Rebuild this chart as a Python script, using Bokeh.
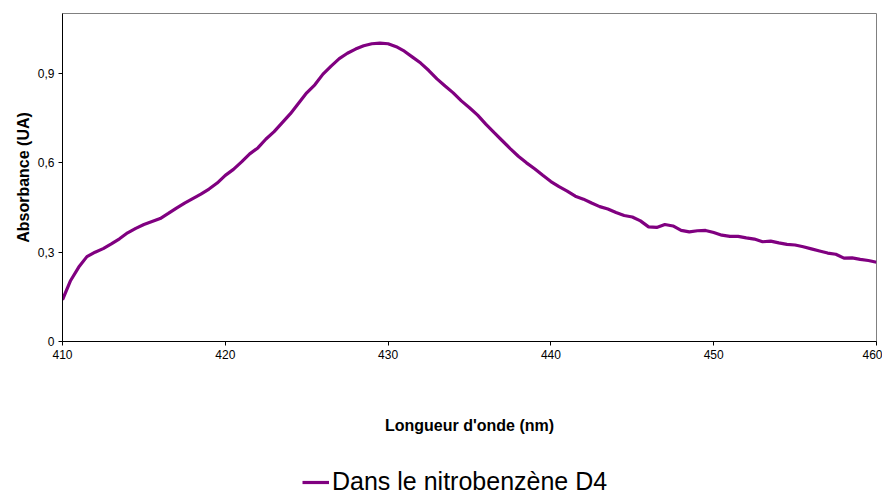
from bokeh.plotting import figure
from bokeh.layouts import column
from bokeh.models import Range1d, FixedTicker, Legend, LegendItem
from bokeh.embed import file_html
from bokeh.resources import INLINE

wavelength = [410.0 + 0.5 * i for i in range(101)]
absorbance = [
    0.140, 0.205, 0.250, 0.285, 0.300, 0.312, 0.328, 0.345, 0.365, 0.380,
    0.393, 0.403, 0.413, 0.430, 0.448, 0.465, 0.480, 0.495, 0.512, 0.532,
    0.558, 0.578, 0.603, 0.630, 0.650, 0.680, 0.705, 0.735, 0.765, 0.800,
    0.835, 0.862, 0.898, 0.925, 0.950, 0.968, 0.982, 0.993, 1.000, 1.002,
    1.000, 0.990, 0.975, 0.955, 0.935, 0.910, 0.882, 0.858, 0.835, 0.808,
    0.785, 0.760, 0.730, 0.702, 0.675, 0.648, 0.622, 0.600, 0.580, 0.558,
    0.537, 0.520, 0.505, 0.488, 0.478, 0.465, 0.453, 0.445, 0.433, 0.423,
    0.418, 0.405, 0.385, 0.383, 0.393, 0.388, 0.373, 0.368, 0.372, 0.373,
    0.366, 0.357, 0.353, 0.353, 0.348, 0.344, 0.335, 0.337, 0.331, 0.326,
    0.324, 0.318, 0.311, 0.304, 0.297, 0.293, 0.280, 0.281, 0.276, 0.272,
    0.266,
]
x_ticks = [410, 420, 430, 440, 450, 460]
y_ticks = [0, 0.3, 0.6, 0.9]
y_tick_labels = {0: "0", 0.3: "0,3", 0.6: "0,6", 0.9: "0,9"}
series_name = "Dans le nitrobenzène D4"
x_title = "Longueur d'onde (nm)"
y_title = "Absorbance (UA)"

FONT = "Liberation Sans"
LINE_COLOR = "#800080"

p = figure(width=882, height=445, output_backend="svg", toolbar_location=None,
           x_range=Range1d(410, 460), y_range=Range1d(0, 1.1015),
           min_border_left=62, min_border_right=6, min_border_top=13, min_border_bottom=104)

r = p.line(wavelength, absorbance, line_color=LINE_COLOR, line_width=3.2)

p.xgrid.visible = False
p.ygrid.visible = False
p.outline_line_color = "#808080"
p.outline_line_width = 1
p.background_fill_color = "white"
p.border_fill_color = "white"

xa = p.xaxis[0]
xa.ticker = FixedTicker(ticks=x_ticks)
xa.axis_label = x_title
xa.axis_label_text_font = FONT
xa.axis_label_text_font_size = "16px"
xa.axis_label_text_font_style = "bold"
xa.axis_label_text_color = "black"
xa.axis_label_standoff = 55
xa.major_label_text_font = FONT
xa.major_label_text_font_size = "12px"
xa.major_label_text_color = "black"
xa.major_label_standoff = 4
xa.major_tick_in = 0
xa.major_tick_out = 4
xa.minor_tick_in = 0
xa.minor_tick_out = 0
xa.axis_line_color = "black"
xa.major_tick_line_color = "black"

ya = p.yaxis[0]
ya.ticker = FixedTicker(ticks=y_ticks)
ya.major_label_overrides = y_tick_labels
ya.axis_label = y_title
ya.axis_label_text_font = FONT
ya.axis_label_text_font_size = "16px"
ya.axis_label_text_font_style = "bold"
ya.axis_label_text_color = "black"
ya.axis_label_standoff = 3
ya.major_label_text_font = FONT
ya.major_label_text_font_size = "12px"
ya.major_label_text_color = "black"
ya.major_label_standoff = 4
ya.major_tick_in = 0
ya.major_tick_out = 4
ya.minor_tick_in = 0
ya.minor_tick_out = 0
ya.axis_line_color = "black"
ya.major_tick_line_color = "black"

# legend strip under the chart (its copy of the series lies outside its view,
# it only lends its style to the legend sample)
leg = figure(width=882, height=50, output_backend="svg", toolbar_location=None,
             x_axis_location=None, y_axis_location=None,
             x_range=Range1d(410, 460), y_range=Range1d(5, 6),
             min_border_left=0, min_border_right=0, min_border_top=0, min_border_bottom=0)
leg.xgrid.visible = False
leg.ygrid.visible = False
leg.outline_line_color = None
leg.background_fill_color = "white"
leg.border_fill_color = "white"
sample = leg.line(wavelength, absorbance, line_color=LINE_COLOR, line_width=3.2)

legend = Legend(items=[LegendItem(label=series_name, renderers=[sample])],
                location=(240, -1), orientation="horizontal",
                label_text_font=FONT, label_text_font_size="25px",
                label_text_color="black", glyph_width=27, glyph_height=20,
                label_standoff=3, padding=0, margin=0,
                border_line_color=None, background_fill_alpha=0)
leg.add_layout(legend, "center")

layout = column(p, leg, spacing=0)

open("out.html", "w").write(file_html(layout, INLINE))
